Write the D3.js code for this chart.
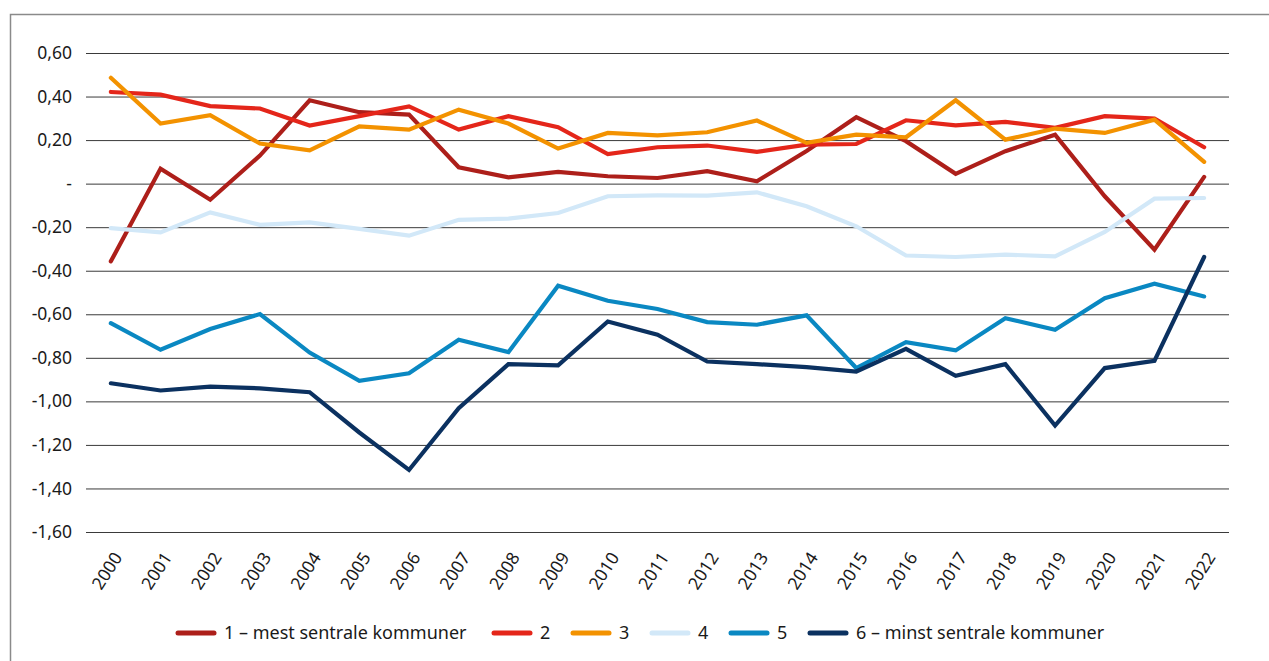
<!DOCTYPE html>
<html>
<head>
<meta charset="utf-8">
<script src="https://cdn.jsdelivr.net/npm/d3@7"></script>
<style>
  body { margin: 0; background: #fff; }
  svg text { font-family: "Noto Sans", "Open Sans", sans-serif; fill: #1a1a1a; }
</style>
</head>
<body>
<div class="chart"></div>
<script>
var years = ["2000","2001","2002","2003","2004","2005","2006","2007","2008","2009","2010","2011",
             "2012","2013","2014","2015","2016","2017","2018","2019","2020","2021","2022"];

var s1 = [-0.357, 0.069, -0.074, 0.129, 0.383, 0.328, 0.317, 0.075, 0.029, 0.054, 0.034, 0.026,
          0.057, 0.011, 0.150, 0.305, 0.195, 0.045, 0.149, 0.225, -0.058, -0.303, 0.031];
var s2 = [0.421, 0.409, 0.356, 0.345, 0.267, 0.310, 0.355, 0.248, 0.310, 0.259, 0.136, 0.167,
          0.175, 0.146, 0.179, 0.182, 0.291, 0.268, 0.284, 0.256, 0.310, 0.299, 0.167];
var s3 = [0.486, 0.276, 0.314, 0.184, 0.153, 0.263, 0.248, 0.340, 0.276, 0.161, 0.233, 0.222,
          0.236, 0.290, 0.187, 0.225, 0.213, 0.383, 0.202, 0.253, 0.233, 0.294, 0.100];
var s4 = [-0.204, -0.224, -0.132, -0.189, -0.178, -0.208, -0.239, -0.166, -0.161, -0.135, -0.058, -0.054,
          -0.055, -0.040, -0.104, -0.196, -0.330, -0.337, -0.326, -0.334, -0.222, -0.069, -0.066];
var s5 = [-0.641, -0.763, -0.668, -0.599, -0.776, -0.906, -0.871, -0.717, -0.774, -0.469, -0.538, -0.576,
          -0.636, -0.648, -0.605, -0.847, -0.728, -0.766, -0.618, -0.671, -0.526, -0.460, -0.518];
var s6 = [-0.917, -0.950, -0.932, -0.940, -0.958, -1.143, -1.315, -1.031, -0.829, -0.835, -0.633, -0.694,
          -0.817, -0.829, -0.843, -0.863, -0.759, -0.883, -0.829, -1.111, -0.847, -0.814, -0.337];

var seriesNames = ["1 \u2013 mest sentrale kommuner", "2", "3", "4", "5", "6 \u2013 minst sentrale kommuner"];
var seriesColors = ["#ad1f1a", "#e4261a", "#f39200", "#d2e8f8", "#0a88c2", "#0b3160"];
var yTicks = [0.6, 0.4, 0.2, 0, -0.2, -0.4, -0.6, -0.8, -1.0, -1.2, -1.4, -1.6];

var series = [s1, s2, s3, s4, s5, s6];

var svgWidth = 1269, svgHeight = 661;
var margin = { top: 53, right: 40, bottom: 129, left: 86 };
var width = svgWidth - margin.left - margin.right;
var height = svgHeight - margin.top - margin.bottom;

var svg = d3.select(".chart").append("svg")
    .attr("width", svgWidth)
    .attr("height", svgHeight);

// outer frame (top and left visible)
svg.append("path")
    .attr("d", "M10.5," + svgHeight + "V14.5H" + svgWidth)
    .attr("fill", "none")
    .attr("stroke", "#8a8a8a")
    .attr("stroke-width", 1.5);

var chartGroup = svg.append("g")
    .attr("transform", `translate(${margin.left}, ${margin.top})`);

var x = d3.scaleBand().domain(years).range([0, width]);
var y = d3.scaleLinear().domain([-1.6, 0.6]).range([height, 0]);

function fmt(v) {
    if (Math.abs(v) < 1e-9) return "-";
    return d3.format(".2f")(v).replace(".", ",").replace("\u2212", "-");
}

// grid + y labels
var yAxis = d3.axisLeft(y).tickValues(yTicks).tickSize(-width).tickFormat(fmt).tickPadding(14);
var yg = chartGroup.append("g").call(yAxis);
yg.select(".domain").remove();
yg.selectAll(".tick line").attr("stroke", "#3a3a3a").attr("stroke-width", 1);
yg.selectAll(".tick text").attr("font-size", 17.5).attr("fill", "#1a1a1a");

// x labels
var xAxis = d3.axisBottom(x).tickSize(0).tickPadding(0);
var xg = chartGroup.append("g").attr("transform", `translate(0, ${height})`).call(xAxis);
xg.select(".domain").remove();
xg.selectAll(".tick text")
    .attr("font-size", 17.5)
    .attr("text-anchor", "end")
    .attr("dy", "0.35em")
    .attr("transform", "translate(7, 22) rotate(-57)");

var line = d3.line()
    .x((d, i) => x(years[i]) + x.bandwidth() / 2)
    .y(d => y(d));

series.forEach(function(s, k) {
    chartGroup.append("path")
        .datum(s)
        .attr("d", line)
        .attr("fill", "none")
        .attr("stroke", seriesColors[k])
        .attr("stroke-width", 4.2)
        .attr("stroke-linejoin", "miter")
        .attr("stroke-linecap", "round");
});

// legend
var legendX = [178, 494, 573, 652, 731, 810];
var legend = svg.append("g").attr("transform", "translate(0, 633)");
seriesNames.forEach(function(name, k) {
    legend.append("line")
        .attr("x1", legendX[k]).attr("x2", legendX[k] + 36)
        .attr("y1", 0).attr("y2", 0)
        .attr("stroke", seriesColors[k])
        .attr("stroke-width", 5)
        .attr("stroke-linecap", "round");
    legend.append("text")
        .attr("x", legendX[k] + 46)
        .attr("y", 0)
        .attr("dy", "0.35em")
        .attr("font-size", 18)
        .text(name);
});
</script>
</body>
</html>
